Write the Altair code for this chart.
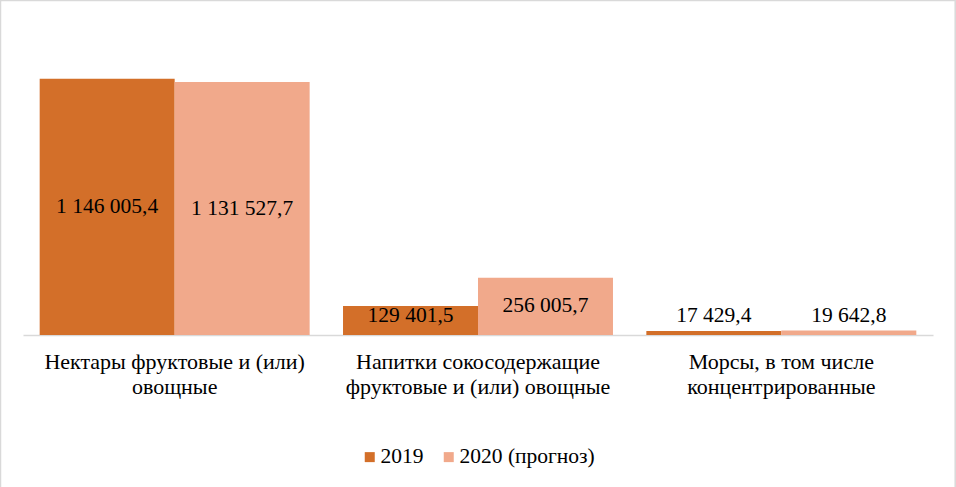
import altair as alt
import pandas as pd

categories = [
    "Нектары фруктовые и (или)\nовощные",
    "Напитки сокосодержащие\nфруктовые и (или) овощные",
    "Морсы, в том числе\nконцентрированные",
]
series = ["2019", "2020 (прогноз)"]
values_2019 = [1146005.4, 129401.5, 17429.4]
values_2020 = [1131527.7, 256005.7, 19642.8]
colors = ["#D36F29", "#F1A98B"]


def fmt(v):
    return f"{v:,.1f}".replace(",", " ").replace(".", ",")


rows = []
for c, a, b in zip(categories, values_2019, values_2020):
    for s, v in zip(series, [a, b]):
        rows.append({"category": c, "series": s, "value": v, "label": fmt(v)})
df = pd.DataFrame(rows)

FONT = "Liberation Serif"

x = alt.X(
    "category:N",
    sort=categories,
    scale=alt.Scale(paddingInner=0.11, paddingOuter=0.055),
    axis=alt.Axis(
        title=None,
        labelAngle=0,
        labelExpr="split(datum.label, '\\n')",
        labelFont=FONT,
        labelFontSize=22,
        labelColor="#000000",
        labelLineHeight=25,
        labelPadding=16,
        labelLimit=400,
        ticks=False,
        domainColor="#D9D9D9",
        domainWidth=1.5,
        grid=False,
    ),
)
xo = alt.XOffset("series:N", sort=series)

base = alt.Chart(df)

bars = base.mark_bar().encode(
    x=x,
    xOffset=xo,
    y=alt.Y("value:Q", scale=alt.Scale(domain=[0, 1400000]), axis=None),
    color=alt.Color(
        "series:N",
        sort=series,
        scale=alt.Scale(domain=series, range=colors),
        legend=alt.Legend(
            title=None,
            orient="none",
            direction="horizontal",
            legendX=336,
            legendY=424,
            symbolType="square",
            symbolSize=100,
            symbolStrokeWidth=0,
            labelFont=FONT,
            labelFontSize=21.5,
            labelColor="#000000",
            labelOffset=0,
            columnPadding=14,
        ),
    ),
)

texts = base.transform_calculate(ly="max(datum.value / 2, 85000)").mark_text(
    font=FONT, fontSize=21.5, color="#000000", align="center", baseline="middle"
).encode(
    x=x,
    xOffset=xo,
    y=alt.Y("ly:Q", scale=alt.Scale(domain=[0, 1400000]), axis=None),
    text="label:N",
)

border = alt.Chart(pd.DataFrame({"a": [0]})).mark_rect(
    filled=False, stroke="#D9D9D9", strokeWidth=1.5
).encode(
    x=alt.value(-22.5),
    x2=alt.value(932.2),
    y=alt.value(-21.5),
    y2=alt.value(475),
)

chart = (
    alt.layer(bars, texts, border)
    .properties(
        width=910,
        height=313,
        autosize=alt.AutoSizeParams(type="none"),
        padding={"left": 23, "top": 22, "right": 23, "bottom": 152},
    )
    .configure(font=FONT)
    .configure_view(strokeWidth=0)
)

chart.save("out.html", embed_options={"renderer": "svg", "actions": False})
